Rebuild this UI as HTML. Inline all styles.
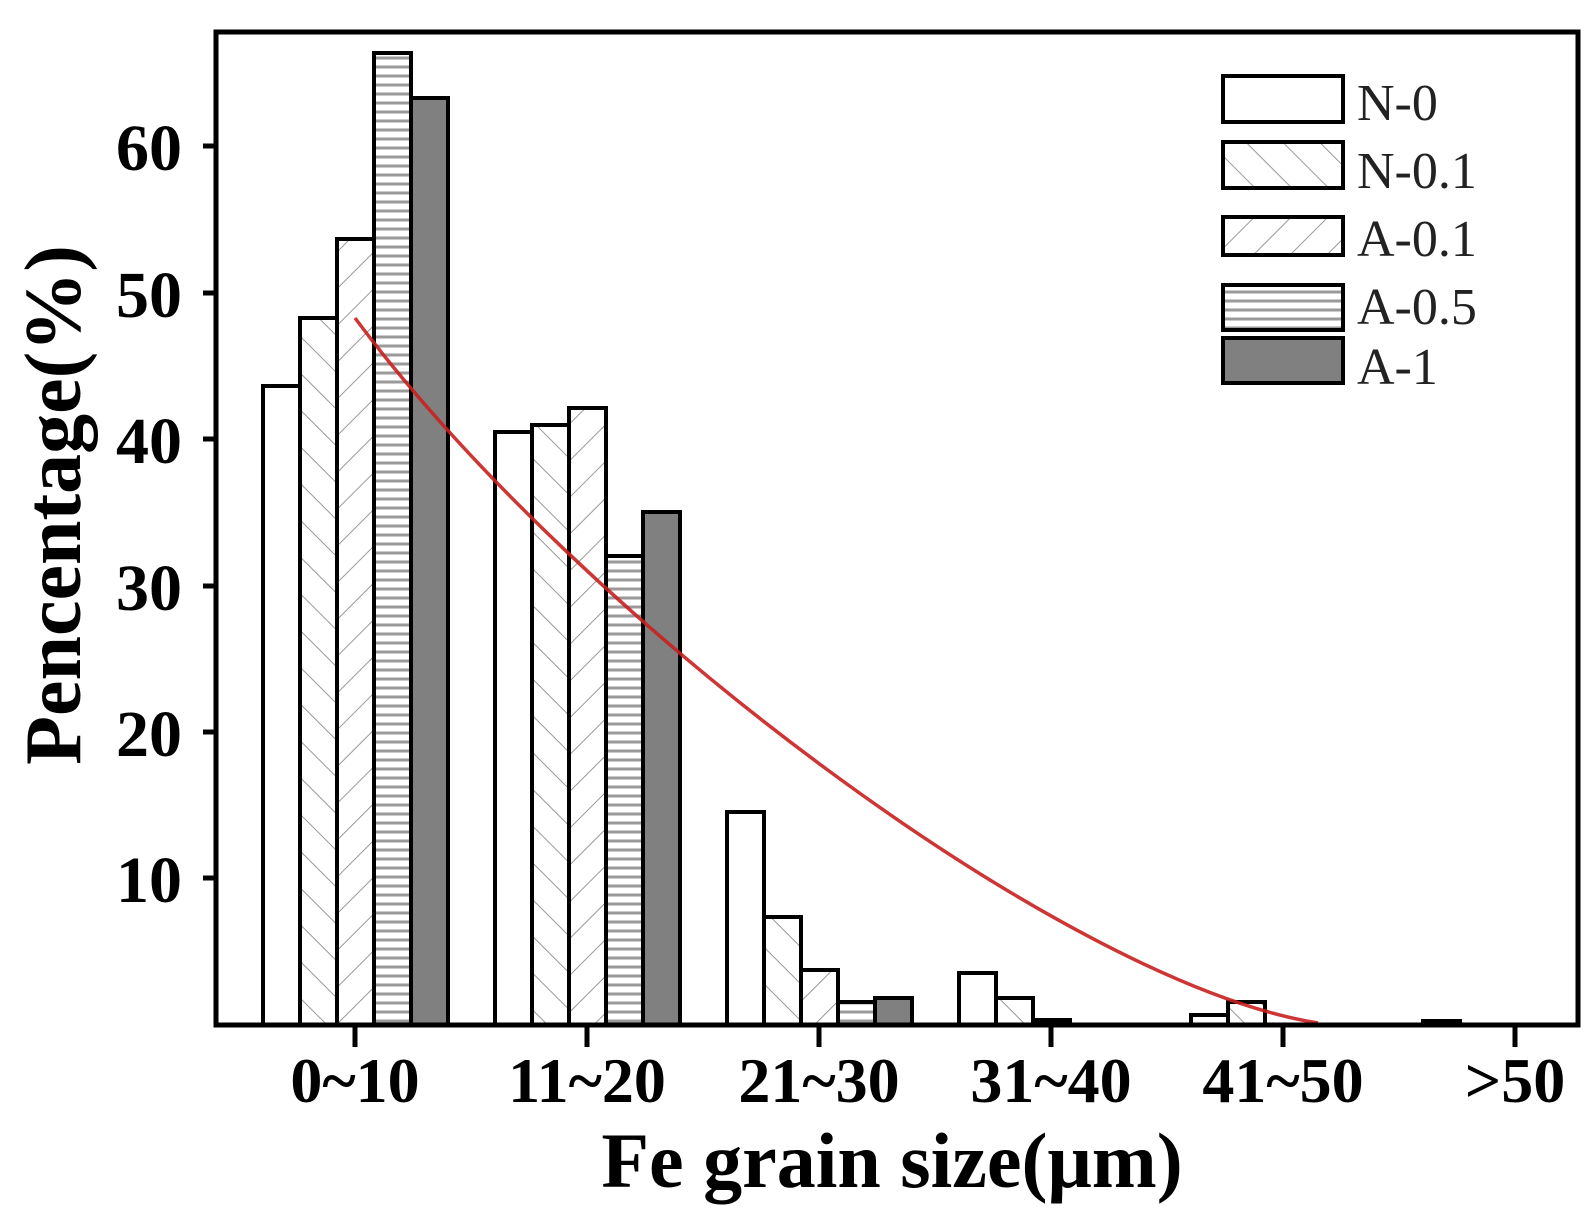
<!DOCTYPE html>
<html><head><meta charset="utf-8"><style>
html,body{margin:0;padding:0;background:#fff;}
svg{display:block;}
</style></head><body>
<svg width="1592" height="1220" viewBox="0 0 1592 1220" xmlns="http://www.w3.org/2000/svg">
<defs>
<pattern id="pb" patternUnits="userSpaceOnUse" width="26" height="26" patternTransform="rotate(-45)">
<rect width="26" height="26" fill="#fff"/><line x1="0" y1="0" x2="0" y2="26" stroke="#999" stroke-width="2"/></pattern>
<pattern id="pf" patternUnits="userSpaceOnUse" width="26" height="26" patternTransform="rotate(45)">
<rect width="26" height="26" fill="#fff"/><line x1="0" y1="0" x2="0" y2="26" stroke="#999" stroke-width="2"/></pattern>
<pattern id="ph" patternUnits="userSpaceOnUse" width="10" height="9">
<rect width="10" height="9" fill="#fff"/><line x1="0" y1="4" x2="10" y2="4" stroke="#9a9a9a" stroke-width="3"/></pattern>
</defs>
<g stroke="#000" stroke-width="4">
<rect x="263" y="386" width="37" height="639" fill="#fff"/>
<rect x="300" y="318" width="37" height="707" fill="url(#pb)"/>
<rect x="337" y="239" width="37" height="786" fill="url(#pf)"/>
<rect x="374" y="53" width="37" height="972" fill="url(#ph)"/>
<rect x="411" y="98" width="37" height="927" fill="#808080"/>
<rect x="495" y="432" width="37" height="593" fill="#fff"/>
<rect x="532" y="425" width="37" height="600" fill="url(#pb)"/>
<rect x="569" y="408" width="37" height="617" fill="url(#pf)"/>
<rect x="606" y="556" width="37" height="469" fill="url(#ph)"/>
<rect x="643" y="512" width="37" height="513" fill="#808080"/>
<rect x="727" y="812" width="37" height="213" fill="#fff"/>
<rect x="764" y="917" width="37" height="108" fill="url(#pb)"/>
<rect x="801" y="970" width="37" height="55" fill="url(#pf)"/>
<rect x="838" y="1002" width="37" height="23" fill="url(#ph)"/>
<rect x="875" y="998" width="37" height="27" fill="#808080"/>
<rect x="959" y="973" width="37" height="52" fill="#fff"/>
<rect x="996" y="998" width="37" height="27" fill="url(#pb)"/>
<rect x="1033" y="1020" width="37" height="5" fill="#000"/>
<rect x="1191" y="1015" width="37" height="10" fill="#fff"/>
<rect x="1228" y="1002" width="37" height="23" fill="url(#pb)"/>
<rect x="1423" y="1021" width="37" height="4" fill="#000"/>
</g>
<path d="M355,318 C580,620 1065,983 1318,1023" fill="none" stroke="#c8201e" stroke-width="3.5" opacity="0.9"/>
<rect x="216" y="32" width="1362" height="993" fill="none" stroke="#000" stroke-width="5"/>
<g stroke="#000" stroke-width="5">
<line x1="203" y1="146" x2="216" y2="146"/><line x1="203" y1="293" x2="216" y2="293"/>
<line x1="203" y1="439" x2="216" y2="439"/><line x1="203" y1="586" x2="216" y2="586"/>
<line x1="203" y1="732" x2="216" y2="732"/><line x1="203" y1="878" x2="216" y2="878"/>
<line x1="355" y1="1025" x2="355" y2="1047"/><line x1="587" y1="1025" x2="587" y2="1047"/>
<line x1="819" y1="1025" x2="819" y2="1047"/><line x1="1051" y1="1025" x2="1051" y2="1047"/>
<line x1="1283" y1="1025" x2="1283" y2="1047"/><line x1="1515" y1="1025" x2="1515" y2="1047"/>
</g>
<g font-family="Liberation Serif, serif" font-weight="bold" font-size="66" text-anchor="end" fill="#000">
<text x="182" y="170">60</text><text x="182" y="317">50</text><text x="182" y="463">40</text>
<text x="182" y="610">30</text><text x="182" y="756">20</text><text x="182" y="902">10</text>
</g>
<g font-family="Liberation Serif, serif" font-weight="bold" font-size="64" text-anchor="middle" fill="#000">
<text x="355" y="1102">0~10</text><text x="587" y="1102">11~20</text><text x="819" y="1102">21~30</text>
<text x="1051" y="1102">31~40</text><text x="1283" y="1102">41~50</text><text x="1515" y="1102">&gt;50</text>
</g>
<text x="892" y="1187" font-family="Liberation Serif, serif" font-weight="bold" font-size="78" text-anchor="middle">Fe grain size(μm)</text>
<text transform="translate(80,505) rotate(-90)" font-family="Liberation Serif, serif" font-weight="bold" font-size="80" text-anchor="middle">Pencentage(%)</text>
<g stroke="#000" stroke-width="4">
<rect x="1223" y="76" width="120" height="46" fill="#fff"/>
<rect x="1223" y="142" width="120" height="46" fill="url(#pb)"/>
<rect x="1223" y="217" width="120" height="38" fill="url(#pf)"/>
<rect x="1223" y="285" width="120" height="45" fill="url(#ph)"/>
<rect x="1223" y="338" width="120" height="45" fill="#808080"/>
</g>
<g font-family="Liberation Serif, serif" font-size="52" fill="#222">
<text x="1357" y="120">N-0</text><text x="1357" y="188">N-0.1</text><text x="1357" y="256">A-0.1</text>
<text x="1357" y="324">A-0.5</text><text x="1357" y="384">A-1</text>
</g>
</svg>
</body></html>
